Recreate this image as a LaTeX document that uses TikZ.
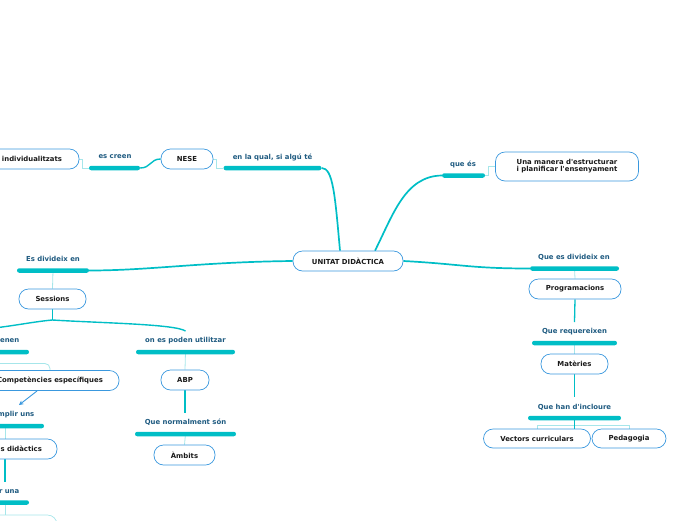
\documentclass[tikz,border=0pt]{standalone}
\usepackage{fontspec}
\setmainfont{DejaVu Sans}
\usetikzlibrary{arrows.meta,backgrounds}
\definecolor{tealc}{HTML}{00BEC6}
\definecolor{lightc}{HTML}{A6E6EA}
\definecolor{boxc}{HTML}{3A98DE}
\definecolor{labc}{HTML}{1E5A80}
\definecolor{txtc}{HTML}{1A1A1A}
\tikzset{
 box/.style={draw=boxc, line width=0.7pt, rounded corners=9.5pt, fill=white, text=txtc, font=\bfseries\fontsize{6.9}{8.2}\selectfont, inner sep=0pt, minimum height=20pt},
 lab/.style={text=labc, font=\bfseries\fontsize{6.9}{8.2}\selectfont, inner sep=0pt},
 bar/.style={fill=tealc, rounded corners=2.2pt, minimum height=4.5pt, inner sep=0pt},
 conn/.style={draw=tealc, line width=1.7pt},
 thinc/.style={draw=lightc, line width=0.8pt},
}
\begin{document}
\begin{tikzpicture}[x=1pt,y=-1pt]
\useasboundingbox (0,0) rectangle (696,520);
\clip (0,0) rectangle (696,520);

% central
\node[box, minimum width=110] (uni) at (348,261) {UNITAT DIDÀCTICA};

% top
\node[box, minimum width=94] (indiv) at (32,159) {individualitzats};
\node[lab] (lescreen) at (115,157) {es creen};
\node[bar, minimum width=51] (bescreen) at (114.5,168) {};
\node[box, minimum width=52] (nese) at (187,159) {NESE};
\node[lab] (lenla) at (272.5,157) {en la qual, si algú té};
\node[bar, minimum width=98] (benla) at (272.5,168) {};
\node[lab] (lquees) at (463,164) {que és};
\node[bar, minimum width=43] (bquees) at (463.5,175.5) {};
\node[box, minimum width=143, minimum height=29, align=center] (una) at (567,166.5) {Una manera d\textquotesingle estructurar\\[-1pt]i planificar l\textquotesingle ensenyament};

% right column
\node[lab] (lquediv) at (574,257) {Que es divideix en};
\node[bar, minimum width=89] (bquediv) at (574.5,268.5) {};
\node[box, minimum width=92] (prog) at (575,289) {Programacions};
\node[lab] (lreq) at (574.5,332) {Que requereixen};
\node[bar, minimum width=85] (breq) at (574.5,343) {};
\node[box, minimum width=67] (mat) at (574.5,364) {Matèries};
\node[lab] (lhan) at (574.5,407) {Que han d\textquotesingle incloure};
\node[bar, minimum width=93] (bhan) at (574.5,418) {};
\node[box, minimum width=107, minimum height=19] (vec) at (537,438.5) {Vectors curriculars};
\node[box, minimum width=74, minimum height=19] (ped) at (629,438.5) {Pedagogia};
\coordinate (progend) at (574.5,322);
\coordinate (matend) at (574.5,397);

% left column
\node[lab] (lesdiv) at (53,259) {Es divideix en};
\node[bar, minimum width=72] (besdiv) at (53,270.5) {};
\node[box, minimum width=67] (sess) at (52.5,299) {Sessions};
\coordinate (sj) at (52.5,320);
\coordinate (ljend) at (-25,330);
\coordinate (rjend) at (185.5,331);
\node[lab, anchor=east] (lrenen) at (19.5,341) {Que comprenen};
\node[bar, minimum width=59] (brenen) at (-0.5,352) {};
\node[box, minimum width=138] (comp) at (50,380.5) {Competències específiques};
\coordinate (a1) at (37,391);
\coordinate (a2) at (19,405);
\node[lab, anchor=east] (luns) at (34.5,415) {Per complir uns};
\node[bar, minimum width=74] (buns) at (7,426) {};
\node[box, minimum width=104] (obj) at (5,449) {Objectius didàctics};
\coordinate (objend) at (5,482);
\node[lab, anchor=east] (luna) at (19.5,491) {Per fer una};
\node[bar, minimum width=59] (buna) at (-0.5,502.5) {};
\node[box, draw=lightc, minimum width=104] (bot) at (5,525) {};
\coordinate (lc1) at (-10,363.5);
\coordinate (lc2) at (50,371);

\node[lab] (lon) at (185.5,341) {on es poden utilitzar};
\node[bar, minimum width=99] (bon) at (185.5,352) {};
\node[box, minimum width=48] (abp) at (185,380) {ABP};
\coordinate (abpend) at (185,413);
\node[lab] (lnorm) at (185.5,422) {Que normalment són};
\node[bar, minimum width=101] (bnorm) at (185.5,434) {};
\node[box, minimum width=61] (amb) at (184.5,455) {Àmbits};

\begin{scope}[on background layer]
 % main branches
 \draw[conn] ([xshift=-8pt]uni.north) .. controls (335,195) and (333,168) .. (benla.east);
 \draw[conn] ([xshift=27pt]uni.north) .. controls (393,215) and (405,176) .. (bquees.west);
 \draw[conn] (uni.east) .. controls (460,264) and (470,268.5) .. (bquediv.west);
 \draw[conn] (uni.west) .. controls (200,262) and (150,270.5) .. (besdiv.east);
 \draw[conn, line width=1.4pt] (nese.west) .. controls (150,159) and (151,168) .. (bescreen.east);
 \draw[thinc] (indiv.east) -- ++(3,0) |- (bescreen.west);
 \draw[thinc] (nese.east) -- ++(3,0) |- (benla.west);
 \draw[thinc] (bquees.east) -- ++(3,0) |- (una.west);
 % right column
 \draw[thinc] (bquediv.center) -- (prog.north);
 \draw[conn, line width=1.3pt] (prog.south) -- (progend);
 \draw[thinc] (breq.center) -- (mat.north);
 \draw[conn, line width=1.3pt] (mat.south) -- (matend);
 \draw[thinc] (bhan.center) -- ++(0,7.5) -| (vec.north);
 \draw[thinc] (bhan.center) -- ++(0,7.5) -| (ped.north);
 \draw[draw=tealc, line width=0.9pt] (bhan.center) -- (bhan.center |- vec.north);
 % left column
 \draw[thinc] (besdiv.center) -- (sess.north);
 \draw[conn, line width=1.4pt] (sess.south) -- (sj);
 \draw[conn, line width=1.4pt] (sj) .. controls (100,323) and (175,324) .. (rjend);
 \draw[conn, line width=1.4pt] (sj) .. controls (30,322) and (10,327) .. (ljend);
 \draw[thinc, rounded corners=5pt] (lc1) -| (lc2);
 \draw[draw=boxc, line width=0.9pt, -{Stealth[length=4.5pt,width=4.5pt]}] (a1) -- (a2);
 \draw[thinc] (obj.north |- buns.center) -- (obj.north);
 \draw[conn, line width=1.3pt] (obj.south) -- (objend);
 \draw[thinc] (bot.north |- buna.center) -- (bot.north);
 \draw[thinc] (bon.center) -- (abp.north);
 \draw[conn, line width=1.3pt] (abp.south) -- (abpend);
 \draw[thinc] (bnorm.center) -- (amb.north);
\end{scope}
\end{tikzpicture}
\end{document}
